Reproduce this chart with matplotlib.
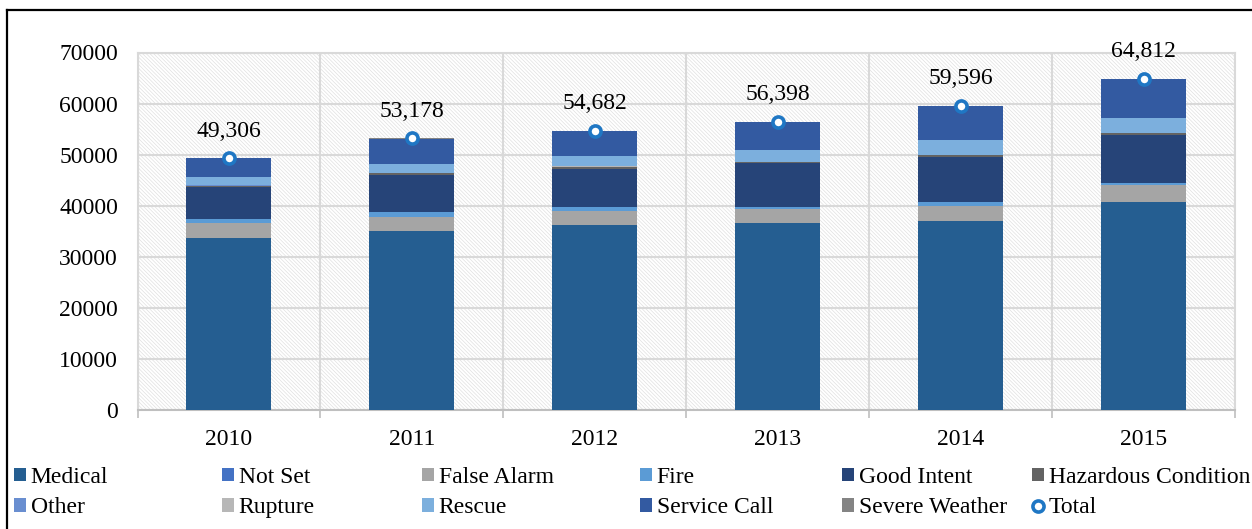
import matplotlib
matplotlib.use("Agg")
import matplotlib.pyplot as plt
from matplotlib.patches import Rectangle
from matplotlib.lines import Line2D
import numpy as np

plt.rcParams['font.family'] = ['Liberation Serif', 'DejaVu Serif']
plt.rcParams['hatch.linewidth'] = 0.5

years = ['2010', '2011', '2012', '2013', '2014', '2015']
medical = [33740, 35050, 36230, 36560, 37070, 40790]
not_set = [3, 2, 2, 1, 1, 1]
false_alarm = [2820, 2800, 2740, 2740, 2930, 3210]
fire = [780, 860, 845, 510, 670, 390]
good_intent = [6270, 7300, 7380, 8460, 8960, 9510]
hazardous = [310, 340, 450, 350, 300, 280]
other = [40, 35, 30, 25, 20, 20]
rupture = [15, 12, 10, 8, 8, 6]
rescue = [1570, 1760, 1960, 2290, 2940, 2940]
service_call = [3738, 4998, 5025, 5435, 6672, 7653]
severe_weather = [20, 15, 10, 20, 25, 12]
totals = [49306, 53178, 54682, 56398, 59596, 64812]
total_labels = ['49,306', '53,178', '54,682', '56,398', '59,596', '64,812']

series = [
    ('Medical', medical, '#255E91'),
    ('Not Set', not_set, '#4472C4'),
    ('False Alarm', false_alarm, '#A5A5A5'),
    ('Fire', fire, '#5B9BD5'),
    ('Good Intent', good_intent, '#264478'),
    ('Hazardous Condition', hazardous, '#636363'),
    ('Other', other, '#698ED0'),
    ('Rupture', rupture, '#B7B7B7'),
    ('Rescue', rescue, '#7CAFDD'),
    ('Service Call', service_call, '#335AA1'),
    ('Severe Weather', severe_weather, '#848484'),
]

fig = plt.figure(figsize=(12.52, 5.29), dpi=100)
ax = fig.add_axes([137.5 / 1252, 1 - 410 / 529, (1235 - 137.5) / 1252, (410 - 52.5) / 529])

# hatched plot-area background
bg = Rectangle((0, 0), 1, 1, transform=ax.transAxes, facecolor='white',
               edgecolor='#e0e0e0', hatch='\\' * 9, linewidth=0, zorder=0)
ax.add_patch(bg)

x = np.arange(len(years))
bottom = np.zeros(len(years))
handles = []
for name, vals, col in series:
    b = ax.bar(x, vals, width=0.465, bottom=bottom, color=col, label=name, zorder=3)
    bottom += np.array(vals)
    handles.append(b)

tl, = ax.plot(x, totals, linestyle='none', marker='o', markersize=8,
              markerfacecolor='white', markeredgecolor='#1F77C4', markeredgewidth=2.6,
              zorder=5, label='Total')
handles.append(tl)

for xi, t, lab in zip(x, totals, total_labels):
    ax.annotate(lab, (xi, t), xytext=(0, 12), textcoords='offset points',
                ha='center', va='bottom', fontsize=17, color='#000000', zorder=6)

ax.set_xlim(-0.5, len(years) - 0.5)
ax.set_ylim(0, 70000)
ax.set_yticks(np.arange(0, 70001, 10000))
ax.set_yticklabels([str(v) for v in range(0, 70001, 10000)])
ax.set_xticks(x)
ax.set_xticklabels(years)
ax.set_xticks(np.arange(-0.5, len(years), 1.0), minor=True)

ax.tick_params(axis='y', length=0, pad=14, labelsize=17)
ax.tick_params(axis='x', which='major', length=0, pad=14, labelsize=17)
ax.tick_params(axis='x', which='minor', length=6, width=1.2, color='#bfbfbf', direction='out')

ax.grid(axis='y', which='major', color='#d9d9d9', linewidth=1.5, zorder=1)
ax.grid(axis='x', which='minor', color='#d9d9d9', linewidth=1.5, zorder=1)
ax.set_axisbelow(True)
for s in ['top', 'left', 'right']:
    ax.spines[s].set_color('#d9d9d9')
    ax.spines[s].set_linewidth(1.5)
ax.spines['bottom'].set_color('#bfbfbf')
ax.spines['bottom'].set_linewidth(1.5)

# legend: 6 columns x 2 rows, uniform column spacing
col_x = [14, 222, 422, 640, 842, 1032]
for i in range(6):
    hs = [handles[i], handles[i + 6]]
    labs = [h.get_label() for h in hs]
    fig.legend(hs, labs, loc='upper left',
               bbox_to_anchor=(col_x[i] / 1252, 1 - 467 / 529),
               frameon=False, fontsize=17, handlelength=0.5, handleheight=0.5,
               handletextpad=0.2, labelspacing=0.4, borderpad=0, borderaxespad=0)

# figure border (left & top visible)
fig.add_artist(Line2D([6.5 / 1252, 6.5 / 1252], [-0.1, 1 - 9.5 / 529], transform=fig.transFigure,
                      color='black', linewidth=1.6))
fig.add_artist(Line2D([6.5 / 1252, 1.1], [1 - 9.5 / 529, 1 - 9.5 / 529], transform=fig.transFigure,
                      color='black', linewidth=1.6))

fig.savefig('out.png', dpi=100)
